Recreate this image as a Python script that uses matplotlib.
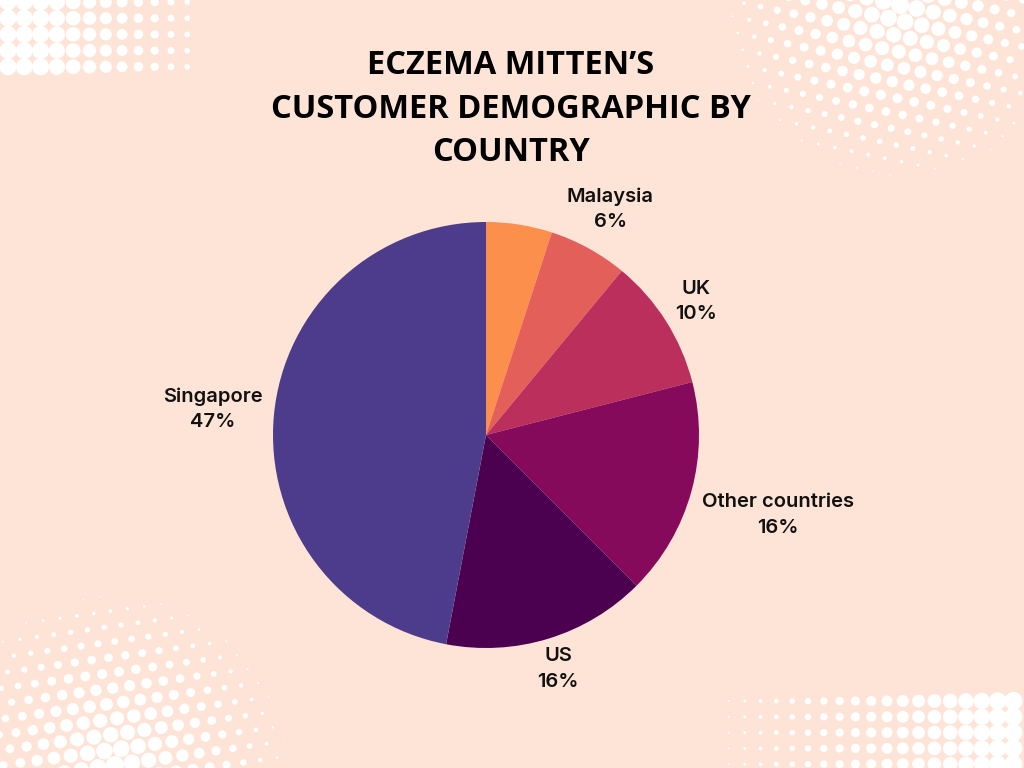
import numpy as np
import matplotlib
matplotlib.use("Agg")
import matplotlib.pyplot as plt

# data
countries = ["", "Malaysia", "UK", "Other countries", "US", "Singapore"]
shares = [5, 6, 10, 16.5, 15.5, 47]
slice_colors = ["#FD8F4C", "#E35F59", "#BA2F5C", "#860A5C", "#4C0050", "#4C3C8B"]
label_dist = [0, 1.21, 1.17, 1.42, 1.15, 1.29]

title = "ECZEMA MITTEN\u2019S\nCUSTOMER DEMOGRAPHIC BY\nCOUNTRY"
bg = "#FEE4D6"


def halftone_grid(ax, xs, ys, sizes):
    # rows of dots, dot diameter (px) varies by column
    for y in ys:
        ax.scatter(xs, [y] * len(xs), s=(np.array(sizes) * 0.72) ** 2,
                   color="white", linewidths=0, zorder=1)


def halftone_radial(ax, cx, cy, radius, dmax, step=17, rot=12):
    a = np.deg2rad(rot)
    n = int(radius / step) + 2
    px, py, d = [], [], []
    for i in range(-n, n + 1):
        for j in range(-n, n + 1):
            gx = i * step + (j % 2) * step / 2
            gy = j * step * 0.9
            x = cx + gx * np.cos(a) - gy * np.sin(a)
            y = cy + gx * np.sin(a) + gy * np.cos(a)
            r = np.hypot(x - cx, y - cy)
            if r < radius:
                px.append(x)
                py.append(y)
                d.append(dmax * (1 - r / radius) ** 0.8 + 1.0)
    ax.scatter(px, py, s=(np.array(d) * 0.72) ** 2, color="white",
               linewidths=0, zorder=1)


fig = plt.figure(figsize=(10.24, 7.68), dpi=100, facecolor=bg)

# background decoration
deco = fig.add_axes([0, 0, 1, 1])
deco.set_xlim(0, 1024)
deco.set_ylim(768, 0)
deco.axis("off")
deco.set_facecolor(bg)

tl_x = 8 + 16.3 * np.arange(12)
halftone_grid(deco, tl_x, 2 + 16.2 * np.arange(5),
              np.clip(20 - 1.3 * np.arange(12), 4, 17))
br_x = 729 + 15.8 * np.arange(19)
halftone_grid(deco, br_x, 701 + 15.8 * np.arange(5),
              2 + 0.9 * np.arange(19))
halftone_radial(deco, 900, 5, 172, 17)
halftone_radial(deco, 115, 765, 170, 17, rot=-8)

# pie
ax = fig.add_axes([273 / 1024, 120 / 768, 426 / 1024, 426 / 768])
wedges, _ = ax.pie(shares, colors=slice_colors, startangle=90,
                   counterclock=False, radius=1,
                   wedgeprops=dict(linewidth=0))
ax.set_xlim(-1, 1)
ax.set_ylim(-1, 1)

for w, name, v, r in zip(wedges, countries, shares, label_dist):
    if not name:
        continue
    mid = np.deg2rad((w.theta1 + w.theta2) / 2)
    ax.text(r * np.cos(mid), r * np.sin(mid), f"{name}\n{v:.0f}%",
            ha="center", va="center", fontsize=14.5, fontweight="semibold",
            family=["Inter", "DejaVu Sans"], linespacing=1.55,
            color="#111111")

fig.text(0.499, 1 - 109 / 768, title, ha="center", va="center",
         fontsize=23.5, fontweight="bold", family=["Open Sans", "DejaVu Sans"],
         linespacing=1.42, color="black")

fig.savefig("out.png", dpi=100, facecolor=bg)
